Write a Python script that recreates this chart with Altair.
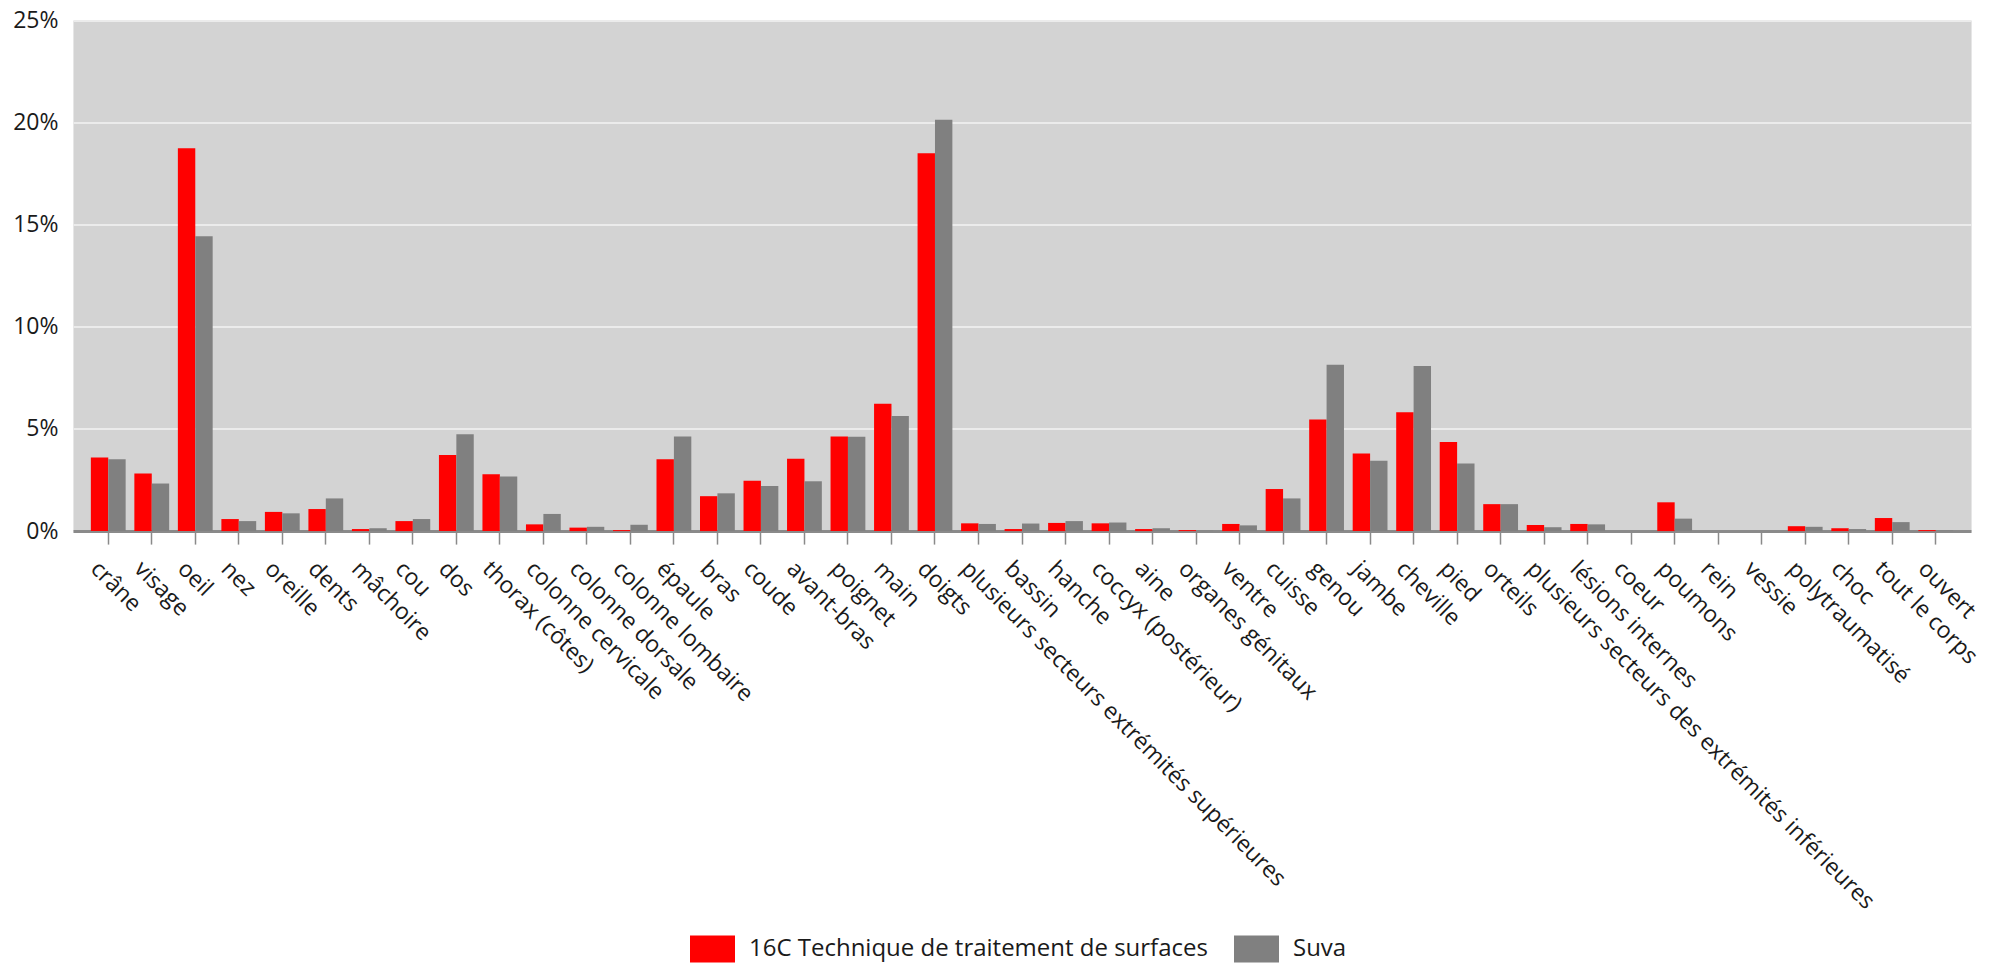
import altair as alt
import pandas as pd

parts = ["crâne", "visage", "oeil", "nez", "oreille", "dents", "mâchoire", "cou", "dos",
         "thorax (côtes)", "colonne cervicale", "colonne dorsale", "colonne lombaire", "épaule",
         "bras", "coude", "avant-bras", "poignet", "main", "doigts",
         "plusieurs secteurs extrémités supérieures", "bassin", "hanche", "coccyx (postérieur)",
         "aine", "organes génitaux", "ventre", "cuisse", "genou", "jambe", "cheville", "pied",
         "orteils", "plusieurs secteurs des extrémités inférieures", "lésions internes", "coeur",
         "poumons", "rein", "vessie", "polytraumatisé", "choc", "tout le corps", "ouvert"]

branche = [3.6, 2.82, 18.75, 0.59, 0.94, 1.08, 0.1, 0.49, 3.73, 2.79, 0.33, 0.17, 0.05, 3.52,
           1.71, 2.46, 3.54, 4.63, 6.24, 18.5, 0.38, 0.1, 0.4, 0.38, 0.1, 0.05, 0.35, 2.06,
           5.47, 3.8, 5.82, 4.36, 1.32, 0.3, 0.35, 0.0, 1.41, 0.0, 0.0, 0.24, 0.14, 0.64, 0.05]

suva = [3.52, 2.33, 14.44, 0.49, 0.87, 1.6, 0.14, 0.59, 4.74, 2.67, 0.84, 0.21, 0.31, 4.63,
        1.85, 2.21, 2.44, 4.62, 5.64, 20.14, 0.35, 0.37, 0.49, 0.42, 0.14, 0.02, 0.28, 1.6,
        8.15, 3.45, 8.08, 3.31, 1.32, 0.19, 0.33, 0.0, 0.61, 0.0, 0.0, 0.21, 0.1, 0.44, 0.03]

series_names = ["16C Technique de traitement de surfaces", "Suva"]
series_colors = ["#ff0000", "#808080"]
y_ticks = [0, 5, 10, 15, 20, 25]

rows = []
for p, a, b in zip(parts, branche, suva):
    rows.append({"part": p, "series": series_names[0], "value": a})
    rows.append({"part": p, "series": series_names[1], "value": b})
df = pd.DataFrame(rows)

FONT = "Open Sans"

chart = alt.Chart(df).mark_bar().encode(
    x=alt.X("part:N", sort=parts,
            scale=alt.Scale(paddingInner=0.2, paddingOuter=0.41),
            axis=alt.Axis(title=None, labelAngle=45, labelAlign="left", labelBaseline="top",
                          labelPadding=13, labelOffset=-6, labelFontSize=23, labelFont=FONT,
                          labelColor="#1a1a1a",
                          labelOverlap=False, labelLimit=1000, grid=False,
                          domainColor="#8a8a8a", domainWidth=3,
                          tickColor="#8a8a8a", tickWidth=1.5, tickSize=13)),
    xOffset=alt.XOffset("series:N", sort=series_names,
                        scale=alt.Scale(paddingInner=0, paddingOuter=0)),
    y=alt.Y("value:Q", scale=alt.Scale(domain=[0, 25], nice=False),
            axis=alt.Axis(title=None, values=y_ticks, labelExpr="datum.value + '%'",
                          labelFontSize=23, labelFont=FONT, labelColor="#1a1a1a",
                          labelPadding=15, ticks=False, domain=False,
                          grid=True, gridColor="#ebebeb", gridWidth=2)),
    color=alt.Color("series:N", sort=series_names,
                    scale=alt.Scale(domain=series_names, range=series_colors),
                    legend=alt.Legend(title=None, orient="none", legendX=617, legendY=906,
                                      direction="horizontal",
                                      symbolType="M-1,-0.6H1V0.6H-1Z", symbolSize=2025,
                                      symbolStrokeWidth=0, labelLimit=1000,
                                      labelFontSize=24, labelFont=FONT, labelColor="#1a1a1a",
                                      labelOffset=14, columnPadding=25, padding=0)),
).properties(
    width=1898,
    height=510.5,
    padding={"left": 65, "top": 12.6, "right": 14, "bottom": 432},
    autosize=alt.AutoSizeParams(type="none"),
).configure_view(
    fill="#d3d3d3", stroke="#e6e6e6", strokeWidth=1
)

chart.save("out.html", embed_options={"renderer": "svg", "actions": False})
